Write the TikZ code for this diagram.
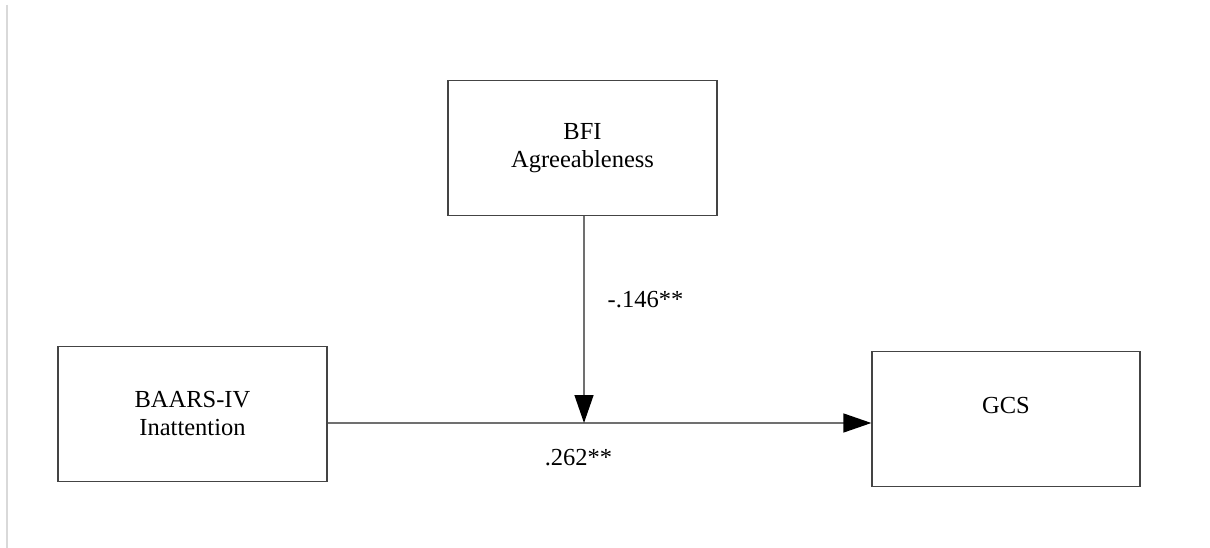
\documentclass[tikz,border=0pt]{standalone}
\usepackage{fontspec}
\setmainfont{Liberation Serif}
\usetikzlibrary{arrows.meta}
\definecolor{boxline}{HTML}{444444}
\definecolor{pathline}{HTML}{707070}
\definecolor{edgeline}{HTML}{D9D9D9}
\begin{document}
\begin{tikzpicture}[x=1pt,y=-1pt,
  every node/.style={font=\fontsize{24.5}{28}\selectfont},
  varbox/.style={draw=boxline,line width=1.3pt,rectangle,inner sep=0pt,
    minimum width=269pt,minimum height=135pt,align=center},
  path/.style={draw=pathline,line width=1.4pt,
    -{Triangle[length=28pt,width=19pt,fill=black,color=black]}},
  coef/.style={inner sep=0pt}]
  \useasboundingbox[fill=white] (0,0) rectangle (1210,548);
  % faint page edge on the left
  \draw[edgeline,line width=1.2pt] (7,5) -- (7,548);

  % variables
  \node[varbox] (bfi) at (582.5,148) {BFI\\Agreeableness};
  \node[varbox] (baars) at (192.5,414) {BAARS-IV\\Inattention};
  \node[varbox,minimum width=268pt] (gcs) at (1006,419) {GCS\\~};

  % point where the moderator meets the main path
  \coordinate (junction) at (584,423);

  % paths
  \draw[path] (baars.east |- junction) -- (gcs.west |- junction);
  \draw[path] (bfi.south -| junction) -- (junction);

  % coefficients
  \node[coef] (bmod) at (645.5,300) {-.146**};
  \node[coef] (bmain) at (578.5,458) {.262**};
\end{tikzpicture}
\end{document}
